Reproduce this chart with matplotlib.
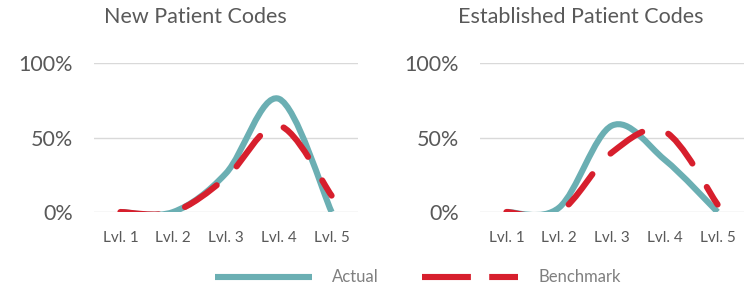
import numpy as np
import matplotlib
matplotlib.use("Agg")
import matplotlib.pyplot as plt
from matplotlib.path import Path
from matplotlib.patches import PathPatch
from matplotlib.lines import Line2D

categories = ["Lvl. 1", "Lvl. 2", "Lvl. 3", "Lvl. 4", "Lvl. 5"]
new_actual = [0.0, 0.0, 0.26, 0.76, 0.0]
new_benchmark = [0.0, 0.0, 0.23, 0.58, 0.11]
est_actual = [0.0, 0.03, 0.58, 0.35, 0.0]
est_benchmark = [0.0, 0.0, 0.40, 0.54, 0.05]
titles = ["New Patient Codes", "Established Patient Codes"]
yticks = [0, 0.5, 1.0]
ytick_labels = ["0%", "50%", "100%"]

TEAL = "#6BAFB3"
RED = "#D71F2D"
GRAY = "#595959"
plt.rcParams["font.family"] = ["Lato", "DejaVu Sans"]


def smooth_path(xs, ys):
    pts = np.column_stack([xs, ys]).astype(float)
    n = len(pts)
    verts = [pts[0]]
    codes = [Path.MOVETO]
    for i in range(n - 1):
        p0 = pts[i - 1] if i > 0 else pts[i]
        p1 = pts[i]
        p2 = pts[i + 1]
        p3 = pts[i + 2] if i + 2 < n else pts[i + 1]
        c1 = p1 + (p2 - p0) / 6.0
        c2 = p2 - (p3 - p1) / 6.0
        verts += [c1, c2, p2]
        codes += [Path.CURVE4] * 3
    return Path(verts, codes)


fig = plt.figure(figsize=(7.44, 2.89), dpi=100)
W, H = 744, 289
ax_specs = [(94, 358, 195), (480, 744, 581)]
data = [(new_actual, new_benchmark), (est_actual, est_benchmark)]

for (x0, x1, tx), (act, bench), title in zip(ax_specs, data, titles):
    ax = fig.add_axes([x0 / W, (H - 212) / H, (x1 - x0) / W, 149 / H])
    x = np.arange(1, len(categories) + 1)
    ax.set_xlim(0.5, len(categories) + 0.5)
    ax.set_ylim(0, 1)
    for y in yticks:
        ax.axhline(y, color="#D9D9D9", lw=1.0, zorder=0)
    pa = PathPatch(smooth_path(x, act), facecolor="none", edgecolor=TEAL,
                   lw=4.4, capstyle="butt", joinstyle="round", zorder=2)
    ax.add_patch(pa)
    pb = PathPatch(smooth_path(x, bench), facecolor="none", edgecolor=RED,
                   lw=4.4, linestyle=(0, (6.3, 4.5)), capstyle="round",
                   joinstyle="round", zorder=3)
    ax.add_patch(pb)
    for s in ax.spines.values():
        s.set_visible(False)
    ax.set_xticks(x)
    ax.set_xticklabels(categories, fontsize=11, color=GRAY)
    ax.set_yticks(yticks)
    ax.set_yticklabels(ytick_labels, fontsize=15.5, color=GRAY)
    ax.tick_params(length=0)
    ax.tick_params(axis="x", pad=14)
    ax.tick_params(axis="y", pad=15)
    fig.text(tx / W, 1 - 17 / H, title, fontsize=15.5, color=GRAY,
             ha="center", va="center")

# legend
lax = fig.add_axes([0, 0, 1, 1], facecolor="none")
lax.set_xlim(0, W)
lax.set_ylim(H, 0)
lax.axis("off")
lax.add_line(Line2D([215, 312], [277, 277], color=TEAL, lw=4.4, solid_capstyle="butt"))
lax.add_line(Line2D([422, 518], [277, 277], color=RED, lw=4.4,
                    linestyle=(0, (8, 3)), dash_capstyle="butt"))
lax.text(332, 277, "Actual", fontsize=12, color="#7F7F7F", va="center", ha="left")
lax.text(538, 277, "Benchmark", fontsize=12, color="#7F7F7F", va="center", ha="left")

fig.savefig("out.png", dpi=100)
